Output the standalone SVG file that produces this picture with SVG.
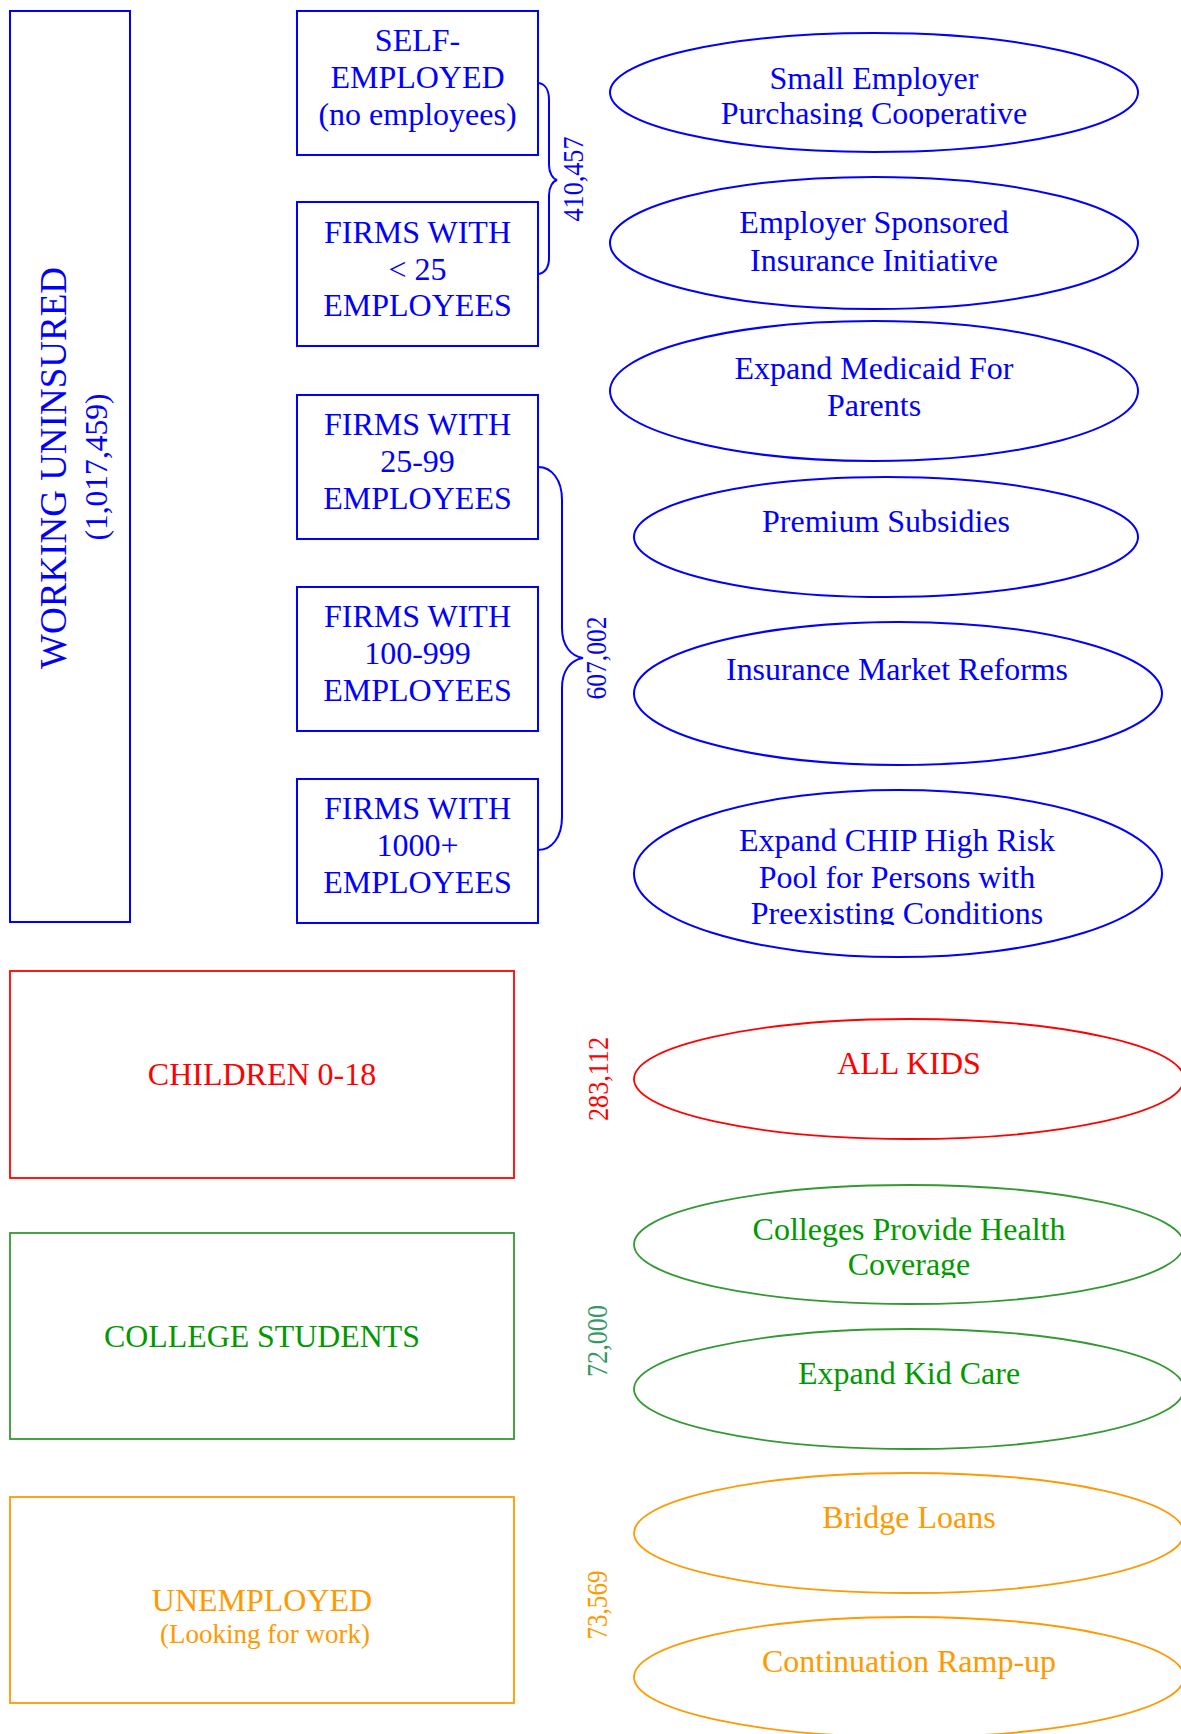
<svg xmlns="http://www.w3.org/2000/svg" width="1181" height="1734" viewBox="0 0 1181 1734">
<style>
text{font-family:"Liberation Serif","Times New Roman",serif;font-size:32px;text-anchor:middle}
.b{fill:#0000ff}.r{fill:#ff0000}.g{fill:#009900}.o{fill:#ff9900}
.sb{fill:none;stroke:#0000ff;stroke-width:2}
.sr{fill:none;stroke:#ff0000;stroke-width:1.8}
.sg{fill:none;stroke:#339933;stroke-width:1.8}
.so{fill:none;stroke:#ff9900;stroke-width:1.8}
.num{font-size:29px}
</style>
<defs>
<clipPath id="c1"><rect x="600" y="30" width="560" height="97"/></clipPath>
<clipPath id="c6"><rect x="620" y="790" width="560" height="135"/></clipPath>
<clipPath id="c8"><rect x="620" y="1185" width="561" height="93"/></clipPath>
</defs>
<rect width="1181" height="1734" fill="#ffffff"/>

<g id="working-uninsured">
<rect class="sb" x="10" y="11" width="120" height="911"/>
<text class="b" transform="translate(66,468) rotate(-90)" style="font-size:37px" textLength="402" lengthAdjust="spacingAndGlyphs">WORKING UNINSURED</text>
<text class="b" transform="translate(107,467) rotate(-90)" style="font-size:32px" textLength="147" lengthAdjust="spacingAndGlyphs">(1,017,459)</text>
</g>

<g id="self-employed">
<rect class="sb" x="297" y="11" width="241" height="144"/>
<text class="b" x="417.5" y="51">SELF-</text>
<text class="b" x="417.5" y="88">EMPLOYED</text>
<text class="b" x="417.5" y="125">(no employees)</text>
</g>
<g id="firms-lt25">
<rect class="sb" x="297" y="202" width="241" height="144"/>
<text class="b" x="417.5" y="243">FIRMS WITH</text>
<text class="b" x="417.5" y="280">&lt; 25</text>
<text class="b" x="417.5" y="316">EMPLOYEES</text>
</g>
<g id="firms-25-99">
<rect class="sb" x="297" y="395" width="241" height="144"/>
<text class="b" x="417.5" y="435">FIRMS WITH</text>
<text class="b" x="417.5" y="472">25-99</text>
<text class="b" x="417.5" y="509">EMPLOYEES</text>
</g>
<g id="firms-100-999">
<rect class="sb" x="297" y="587" width="241" height="144"/>
<text class="b" x="417.5" y="627">FIRMS WITH</text>
<text class="b" x="417.5" y="664">100-999</text>
<text class="b" x="417.5" y="701">EMPLOYEES</text>
</g>
<g id="firms-1000">
<rect class="sb" x="297" y="779" width="241" height="144"/>
<text class="b" x="417.5" y="819">FIRMS WITH</text>
<text class="b" x="417.5" y="856">1000+</text>
<text class="b" x="417.5" y="893">EMPLOYEES</text>
</g>

<g id="children">
<rect class="sr" x="10" y="971" width="504" height="207"/>
<text class="r" x="262" y="1085">CHILDREN 0-18</text>
</g>
<g id="college-students">
<rect class="sg" x="10" y="1233" width="504" height="206"/>
<text class="g" x="262" y="1347" textLength="316" lengthAdjust="spacingAndGlyphs">COLLEGE STUDENTS</text>
</g>
<g id="unemployed">
<rect class="so" x="10" y="1497" width="504" height="206"/>
<text class="o" x="262" y="1611">UNEMPLOYED</text>
<text class="o" x="265" y="1643" style="font-size:27px">(Looking for work)</text>
</g>

<g id="connectors">
<path class="sb" d="M537,83 C545,83 549,90 549,100 L549,165 C549,173 553,179 557,180 C553,181 549,187 549,195 L549,258 C549,267 545,274 537,274"/>
<path class="sb" d="M538,467 C552,467 562,480 562,500 L562,628 C562,646 571,656 583,658 C571,660 562,670 562,688 L562,817 C562,837 552,850 538,850"/>
<text class="b num" transform="translate(583,179) rotate(-90)" textLength="85" lengthAdjust="spacingAndGlyphs">410,457</text>
<text class="b num" transform="translate(606,658) rotate(-90)" textLength="83" lengthAdjust="spacingAndGlyphs">607,002</text>
<text class="r num" transform="translate(608,1079) rotate(-90)" textLength="84" lengthAdjust="spacingAndGlyphs">283,112</text>
<text class="num" fill="#339966" transform="translate(607,1341) rotate(-90)" textLength="72" lengthAdjust="spacingAndGlyphs">72,000</text>
<text class="o num" transform="translate(607,1605) rotate(-90)" textLength="69" lengthAdjust="spacingAndGlyphs">73,569</text>
</g>

<g id="small-employer">
<ellipse class="sb" cx="874" cy="92.5" rx="264" ry="59.5"/>
<g clip-path="url(#c1)">
<text class="b" x="874" y="89">Small Employer</text>
<text class="b" x="874" y="124">Purchasing Cooperative</text>
</g>
</g>
<g id="employer-sponsored">
<ellipse class="sb" cx="874" cy="243" rx="264" ry="66"/>
<text class="b" x="874" y="233">Employer Sponsored</text>
<text class="b" x="874" y="271">Insurance Initiative</text>
</g>
<g id="expand-medicaid">
<ellipse class="sb" cx="874" cy="391" rx="264" ry="70"/>
<text class="b" x="874" y="379">Expand Medicaid For</text>
<text class="b" x="874" y="416">Parents</text>
</g>
<g id="premium-subsidies">
<ellipse class="sb" cx="886" cy="537" rx="252" ry="60"/>
<text class="b" x="886" y="532">Premium Subsidies</text>
</g>
<g id="market-reforms">
<ellipse class="sb" cx="898" cy="693.5" rx="264" ry="71.5"/>
<text class="b" x="897" y="680" textLength="342" lengthAdjust="spacingAndGlyphs">Insurance Market Reforms</text>
</g>
<g id="chip">
<ellipse class="sb" cx="898" cy="873.5" rx="264" ry="83.5"/>
<g clip-path="url(#c6)">
<text class="b" x="897" y="851">Expand CHIP High Risk</text>
<text class="b" x="897" y="888">Pool for Persons with</text>
<text class="b" x="897" y="924">Preexisting Conditions</text>
</g>
</g>
<g id="all-kids">
<ellipse class="sr" cx="909" cy="1079" rx="275" ry="60"/>
<text class="r" x="909" y="1074">ALL KIDS</text>
</g>
<g id="colleges-provide">
<ellipse class="sg" cx="909" cy="1244.5" rx="275" ry="59.5"/>
<g clip-path="url(#c8)">
<text class="g" x="909" y="1240">Colleges Provide Health</text>
<text class="g" x="909" y="1275">Coverage</text>
</g>
</g>
<g id="expand-kid-care">
<ellipse class="sg" cx="909" cy="1389" rx="275" ry="60"/>
<text class="g" x="909" y="1384">Expand Kid Care</text>
</g>
<g id="bridge-loans">
<ellipse class="so" cx="909" cy="1533" rx="275" ry="60"/>
<text class="o" x="909" y="1528">Bridge Loans</text>
</g>
<g id="continuation">
<ellipse class="so" cx="909" cy="1677" rx="275" ry="60"/>
<text class="o" x="909" y="1672">Continuation Ramp-up</text>
</g>
</svg>
